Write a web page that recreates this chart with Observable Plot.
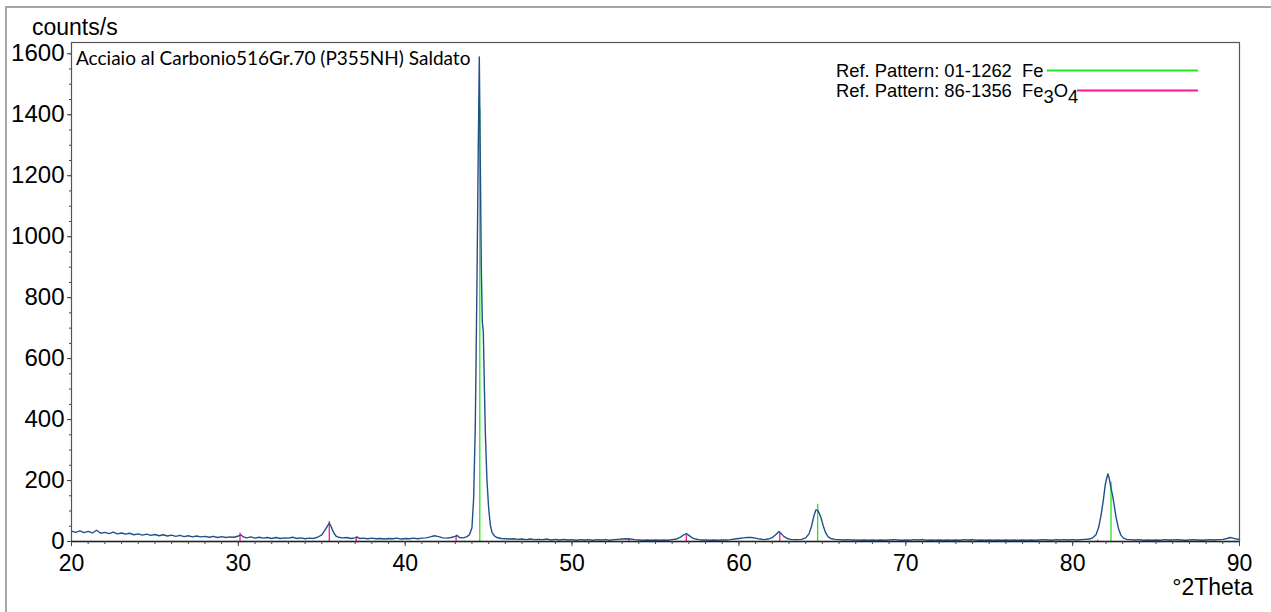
<!DOCTYPE html>
<html><head><meta charset="utf-8">
<script src="https://cdn.jsdelivr.net/npm/d3@7"></script>
<script src="https://cdn.jsdelivr.net/npm/@observablehq/plot@0.6"></script>
<style>body{margin:0;background:#fff;overflow:hidden}</style>
</head><body><div id="chart"></div>
<script>
// measured diffraction pattern: [°2Theta, counts/s]
const scan = [
[20.0,34],[20.25,30],[20.5,35],[20.75,29],[21.0,33],[21.25,28],[21.5,37],[21.75,27],[22.0,30],[22.25,26],[22.5,31],[22.75,25],
[23.0,28],[23.25,24],[23.5,27],[23.75,22],[24.0,25],[24.25,21],[24.5,24],[24.75,20],[25.0,23],[25.25,19],[25.5,22],[25.75,18],
[26.0,21],[26.25,17],[26.5,20],[26.75,16],[27.0,19],[27.25,15],[27.5,18],[27.75,15],[28.0,17],[28.25,14],[28.5,17],[28.75,13],
[29.0,16],[29.25,13],[29.5,15],[29.75,14],[30.0,18],[30.15,22],[30.3,15],[30.5,12],[30.75,15],[31.0,11],[31.25,14],[31.5,11],
[31.75,13],[32.0,10],[32.25,13],[32.5,10],[32.75,12],[33.0,11],[33.25,14],[33.5,10],[33.75,12],[34.0,9],[34.25,11],[34.5,10],
[34.75,14],[35.0,22],[35.2,38],[35.35,52],[35.45,60],[35.55,50],[35.7,30],[35.85,18],[36.0,14],[36.25,12],[36.5,13],[36.75,10],
[37.0,12],[37.1,15],[37.25,10],[37.5,11],[37.75,9],[38.0,11],[38.25,9],[38.5,10],[38.75,8],[39.0,10],[39.25,9],[39.5,11],
[39.75,8],[40.0,10],[40.25,9],[40.5,11],[40.75,9],[41.0,11],[41.25,12],[41.5,15],[41.75,19],[42.0,16],[42.25,12],[42.5,11],
[42.75,13],[43.0,17],[43.1,20],[43.25,13],[43.5,12],[43.7,16],[43.85,22],[44.0,45],[44.1,140],[44.2,380],[44.3,850],[44.38,1300],
[44.44,1590],[44.5,1250],[44.56,900],[44.62,720],[44.68,690],[44.74,520],[44.8,360],[44.9,200],[45.0,110],[45.1,55],[45.2,30],
[45.35,18],[45.5,13],[45.75,10],[46.0,9],[46.25,8],[46.5,9],[46.75,7],[47.0,8],[47.25,6],[47.5,8],[47.75,6],[48.0,7],[48.25,6],
[48.5,8],[48.75,5],[49.0,7],[49.25,5],[49.5,7],[49.75,5],[50.0,6],[50.25,4],[50.5,6],[50.75,5],[51.0,6],[51.25,4],[51.5,6],
[51.75,5],[52.0,6],[52.25,4],[52.5,6],[52.75,7],[53.0,8],[53.25,9],[53.5,8],[53.75,6],[54.0,5],[54.25,4],[54.5,5],[54.75,4],
[55.0,5],[55.25,4],[55.5,5],[55.75,4],[56.0,6],[56.25,8],[56.5,14],[56.7,22],[56.85,26],[57.0,20],[57.2,12],[57.4,8],[57.6,6],
[57.75,5],[58.0,5],[58.25,4],[58.5,5],[58.75,4],[59.0,5],[59.25,5],[59.5,6],[59.75,8],[60.0,10],[60.25,12],[60.5,13],[60.75,13],
[61.0,11],[61.25,8],[61.5,6],[61.75,8],[62.0,13],[62.2,22],[62.4,33],[62.55,25],[62.7,16],[62.9,10],[63.1,7],[63.3,6],[63.5,6],
[63.75,7],[64.0,12],[64.2,25],[64.35,50],[64.5,85],[64.62,104],[64.72,102],[64.82,92],[64.92,78],[65.05,52],[65.2,28],[65.35,15],
[65.5,10],[65.75,7],[66.0,6],[66.25,5],[66.5,6],[66.75,5],[67.0,5],[67.25,4],[67.5,5],[67.75,4],[68.0,5],[68.25,4],[68.5,5],
[68.75,4],[69.0,5],[69.25,6],[69.5,5],[69.75,4],[70.0,5],[70.25,4],[70.5,6],[70.75,5],[71.0,6],[71.25,4],[71.5,5],[71.75,4],
[72.0,5],[72.25,4],[72.5,5],[72.75,4],[73.0,5],[73.25,4],[73.5,6],[73.75,5],[74.0,6],[74.25,4],[74.5,5],[74.75,4],[75.0,5],
[75.25,4],[75.5,5],[75.75,4],[76.0,5],[76.25,4],[76.5,5],[76.75,4],[77.0,5],[77.25,4],[77.5,5],[77.75,4],[78.0,5],[78.25,6],
[78.5,5],[78.75,4],[79.0,6],[79.25,5],[79.5,6],[79.75,5],[80.0,6],[80.25,5],[80.5,6],[80.75,7],[81.0,8],[81.2,12],[81.4,22],
[81.55,45],[81.7,85],[81.85,140],[81.95,185],[82.05,210],[82.12,222],[82.2,205],[82.3,175],[82.4,150],[82.5,115],[82.6,80],
[82.75,42],[82.9,20],[83.05,11],[83.25,7],[83.5,6],[83.75,5],[84.0,6],[84.25,4],[84.5,5],[84.75,4],[85.0,5],[85.25,4],[85.5,6],
[85.75,5],[86.0,5],[86.25,6],[86.5,5],[86.75,4],[87.0,5],[87.25,6],[87.5,5],[87.75,4],[88.0,5],[88.25,6],[88.5,5],[88.75,6],
[89.0,7],[89.25,10],[89.45,13],[89.6,11],[89.8,8],[90.0,7]
];
// reference pattern sticks
const feAngles  = [44.47, 64.72, 82.3];
const feHeights = [1420, 122, 195];
const fe3o4Angles  = [30.1, 35.45, 37.07, 43.05, 53.4, 56.85, 62.45, 73.9, 81.5];
const fe3o4Heights = [28, 66, 12, 18, 8, 20, 26, 6, 4];
const xTicks = [20, 30, 40, 50, 60, 70, 80, 90];
const yTicks = [0, 200, 400, 600, 800, 1000, 1200, 1400, 1600];
const xMinor = d3.range(20, 91, 1);
const yMinor = d3.range(0, 1601, 50);
const legendCodes = ["Ref. Pattern: 01-1262", "Ref. Pattern: 86-1356"];
const sampleTitle = "Acciaio al Carbonio516Gr.70 (P355NH) Saldato";

const scanData = scan.map(([x, y]) => ({x, y}));
const feData = feAngles.map((x, i) => ({x, h: feHeights[i]}));
const mgData = fe3o4Angles.map((x, i) => ({x, h: fe3o4Heights[i]}));

const GREEN = "#1fe81f", PINK = "#ff1493", BLUE = "#1f5189";

const chart = Plot.plot({
  width: 1271, height: 612,
  marginLeft: 71, marginRight: 32, marginTop: 42, marginBottom: 71,
  style: {fontFamily: "'Liberation Sans', Arial, sans-serif", background: "transparent", color: "#000"},
  x: {domain: [20, 90]},
  y: {domain: [0, 1637]},
  marks: [
    Plot.ruleX(feData, {x: "x", y1: 0, y2: "h", stroke: GREEN, strokeWidth: 1.3}),
    Plot.ruleX(mgData, {x: "x", y1: 0, y2: "h", stroke: PINK, strokeWidth: 1.3}),
    Plot.line(scanData, {x: "x", y: "y", stroke: BLUE, strokeWidth: 1.4}),
    Plot.frame({stroke: "#555", strokeWidth: 1.2}),
    Plot.ruleY([0], {stroke: "#222", strokeWidth: 1.3}),
    Plot.axisX({ticks: xMinor, tickSize: 3, text: null, label: null, stroke: "#444"}),
    Plot.axisX({ticks: xTicks, tickSize: 5, tickPadding: 8, fontSize: 23, label: null, stroke: "#444"}),
    Plot.axisY({ticks: yMinor, tickSize: 2, text: null, label: null, stroke: "#444"}),
    Plot.axisY({ticks: yTicks, tickSize: 4, tickPadding: 3, fontSize: 24, label: null, stroke: "#444", tickFormat: d => String(d)})
  ]
});
document.getElementById("chart").appendChild(chart);

const svg = d3.select(chart);
svg.insert("rect", ":first-child")
  .attr("x", 6).attr("y", 7).attr("width", 1400).attr("height", 800)
  .attr("fill", "none").attr("stroke", "#a6a6a6").attr("stroke-width", 2);

svg.append("text").attr("x", 32).attr("y", 35).attr("text-anchor", "start")
  .attr("font-family", "'Liberation Sans', Arial, sans-serif").attr("font-size", 23)
  .text("counts/s");
svg.append("text").attr("x", 1253).attr("y", 595).attr("text-anchor", "end")
  .attr("font-family", "'Liberation Sans', Arial, sans-serif").attr("font-size", 23)
  .text("°2Theta");
svg.append("text").attr("x", 76).attr("y", 65).attr("text-anchor", "start")
  .attr("font-family", "Lato, 'Open Sans', sans-serif").attr("font-size", 19)
  .text(sampleTitle);

// legend
const lg = svg.append("g").attr("text-anchor", "start")
  .attr("font-family", "'Liberation Sans', Arial, sans-serif").attr("font-size", 18.4);
const t1 = lg.append("text").attr("x", 836).attr("y", 77).attr("xml:space", "preserve");
t1.text(legendCodes[0] + "  Fe");
lg.append("line").attr("x1", 1047).attr("x2", 1198).attr("y1", 70.5).attr("y2", 70.5)
  .attr("stroke", GREEN).attr("stroke-width", 2);
const t2 = lg.append("text").attr("x", 836).attr("y", 97).attr("xml:space", "preserve");
t2.append("tspan").text(legendCodes[1] + "  Fe");
t2.append("tspan").attr("dy", 6).text("3");
t2.append("tspan").attr("dy", -6).text("O");
t2.append("tspan").attr("dy", 6).text("4");
lg.append("line").attr("x1", 1077).attr("x2", 1198).attr("y1", 90.5).attr("y2", 90.5)
  .attr("stroke", PINK).attr("stroke-width", 2);
</script>
</body></html>
